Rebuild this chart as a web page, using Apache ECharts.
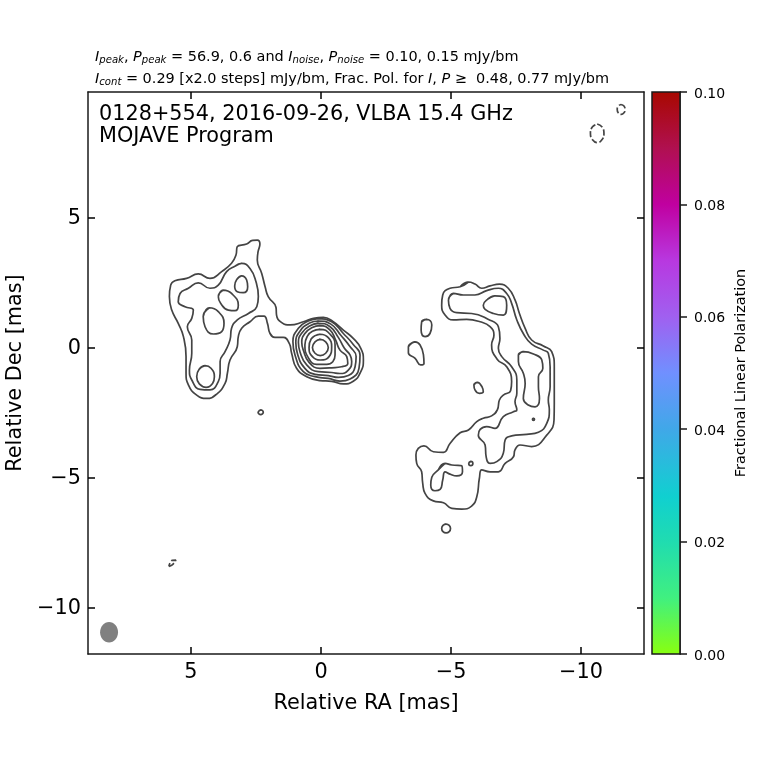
<!DOCTYPE html>
<html>
<head>
<meta charset="utf-8">
<style>html,body{margin:0;padding:0;background:#fff}#chart{width:760px;height:760px}</style>
<script src="https://cdn.jsdelivr.net/npm/echarts@6/dist/echarts.min.js"></script>
</head>
<body>
<div id="chart"></div>
<script>
// axis ranges and ticks, in mas
const raRange = [-12.42, 8.96];
const decRange = [-11.79, 9.83];
const raTicks = [5, 0, -5, -10];
const decTicks = [5, 0, -5, -10];
const polTicks = [0, 0.02, 0.04, 0.06, 0.08, 0.1];

// contours, [RA, Dec] in mas
const coreOuter = [[2.45,4.13],[2.35,3.98],[2.42,3.69],[2.45,3.37],[2.28,2.85],[2.15,2.34],[2.03,1.96],[1.73,1.54],[1.71,1.25],[1.51,0.96],[1.19,0.87],[0.68,0.99],[0.29,1.12],[-0.09,1.16],[-0.47,0.99],[-0.86,0.67],[-1.24,0.35],[-1.53,-0.03],[-1.63,-0.48],[-1.53,-0.93],[-1.24,-1.3],[-0.86,-1.4],[-0.41,-1.3],[0.04,-1.27],[0.55,-1.12],[0.94,-0.8],[1.13,-0.22],[1.22,0.16],[1.45,0.39],[1.77,0.39],[1.96,0.54],[2.06,0.93],[2.19,1.21],[2.41,1.21],[2.73,0.99],[3.05,0.74],[3.18,0.42],[3.22,0.03],[3.5,-0.48],[3.6,-0.99],[3.69,-1.38],[4.01,-1.79],[4.4,-1.96],[4.78,-1.83],[5.1,-1.44],[5.19,-0.99],[5.19,-0.35],[5.29,0.42],[5.49,0.93],[5.74,1.44],[5.83,1.96],[5.78,2.4],[5.62,2.57],[5.17,2.66],[4.72,2.83],[4.27,2.66],[3.82,2.92],[3.44,3.24],[3.27,3.56],[3.22,3.88],[2.86,3.98],[2.63,4.12]];
const leftLobe = [[3.05,3.24],[2.73,3.04],[2.5,2.53],[2.41,1.96],[2.47,1.57],[2.79,1.31],[3.22,1.06],[3.44,0.74],[3.5,0.29],[3.69,-0.16],[3.88,-0.54],[3.88,-0.99],[3.95,-1.31],[4.27,-1.63],[4.65,-1.61],[4.97,-1.25],[5.06,-0.87],[4.97,-0.22],[4.97,0.29],[5.14,0.8],[4.97,1.12],[4.91,1.44],[5.23,1.57],[5.49,1.76],[5.42,2.08],[5.1,2.28],[4.72,2.49],[4.27,2.28],[3.95,2.4],[3.63,2.92],[3.31,3.13]];
const leftBlobA = [[3.05,2.76],[2.86,2.6],[2.82,2.34],[2.99,2.11],[3.22,2.15],[3.32,2.37],[3.24,2.62]];
const leftBlobB = [[3.76,2.21],[3.44,2.08],[3.18,1.63],[3.31,1.42],[3.56,1.44],[3.86,1.7],[3.95,1.96]];
const leftBlobC = [[4.29,1.53],[3.95,1.38],[3.73,0.93],[3.82,0.61],[4.14,0.52],[4.46,0.8],[4.53,1.19]];
const leftBlobD = [[4.46,-0.7],[4.23,-0.8],[4.1,-1.12],[4.17,-1.38],[4.42,-1.53],[4.68,-1.4],[4.78,-1.12],[4.68,-0.83]];
const leftSpot = [[2.32,-2.4],[2.22,-2.49],[2.32,-2.58],[2.42,-2.49]];

const coreRing2 = [[0.1,1.11],[-0.41,0.99],[-0.86,0.54],[-1.24,0.12],[-1.5,-0.29],[-1.46,-0.8],[-1.12,-1.21],[-0.73,-1.29],[-0.28,-1.19],[0.23,-1.12],[0.68,-0.93],[1.0,-0.29],[1.08,0.22],[0.87,0.74],[0.49,1.02]];
const coreRing3 = [[0.1,1.02],[-0.38,0.9],[-0.77,0.46],[-1.12,0.03],[-1.35,-0.35],[-1.31,-0.74],[-1.05,-1.08],[-0.67,-1.15],[-0.28,-1.08],[0.23,-1.03],[0.62,-0.8],[0.9,-0.26],[0.97,0.2],[0.81,0.63],[0.46,0.93]];
const coreRing4 = [[0.1,0.93],[-0.35,0.8],[-0.67,0.38],[-0.9,-0.03],[-1.12,-0.29],[-1.18,-0.54],[-1.05,-0.87],[-0.73,-1.0],[-0.41,-0.96],[0.1,-0.93],[0.55,-0.67],[0.81,-0.16],[0.87,0.2],[0.72,0.58],[0.42,0.84]];
const coreRing5 = [[0.04,0.84],[-0.35,0.67],[-0.56,0.29],[-0.73,-0.1],[-0.99,-0.35],[-1.03,-0.61],[-0.79,-0.74],[-0.41,-0.78],[0.04,-0.8],[0.46,-0.57],[0.68,-0.1],[0.74,0.2],[0.62,0.54],[0.36,0.76]];
const coreRing6 = [[0.04,0.7],[-0.35,0.51],[-0.54,0.1],[-0.54,-0.29],[-0.22,-0.65],[0.17,-0.65],[0.49,-0.39],[0.62,0.1],[0.51,0.46],[0.33,0.63]];
const coreRing7 = [[0.03,0.51],[-0.28,0.38],[-0.41,0.03],[-0.31,-0.35],[0.03,-0.48],[0.33,-0.35],[0.46,-0.01],[0.38,0.33]];
const coreRing8 = [[0.03,0.31],[-0.18,0.22],[-0.28,0],[-0.18,-0.22],[0.03,-0.31],[0.23,-0.22],[0.33,0],[0.23,0.22]];

const arcOuter = [[-5.67,2.52],[-5.92,2.44],[-6.18,2.28],[-6.5,2.37],[-6.86,2.44],[-7.2,2.28],[-7.46,1.83],[-7.63,1.31],[-7.85,0.74],[-8.1,0.29],[-8.55,0.06],[-8.87,-0.16],[-8.97,-0.74],[-8.97,-1.51],[-8.97,-2.15],[-8.96,-2.79],[-8.68,-3.37],[-8.1,-3.81],[-7.65,-3.75],[-7.46,-3.94],[-7.4,-4.2],[-7.08,-4.46],[-6.82,-4.78],[-6.5,-4.78],[-6.18,-4.71],[-6.09,-5.03],[-5.99,-5.74],[-5.79,-6.1],[-5.41,-6.22],[-5.03,-6.19],[-4.71,-5.97],[-4.32,-5.9],[-4.0,-5.61],[-3.91,-5.22],[-3.87,-4.78],[-3.68,-4.46],[-3.65,-4.13],[-3.74,-3.88],[-3.96,-3.78],[-4.32,-4.01],[-4.71,-4.03],[-4.96,-3.69],[-5.35,-3.28],[-5.67,-3.17],[-5.99,-2.85],[-6.24,-2.72],[-6.56,-2.63],[-6.78,-2.4],[-6.86,-2.02],[-7.01,-1.83],[-7.29,-1.66],[-7.33,-1.31],[-7.14,-0.74],[-6.78,-0.46],[-6.56,0.1],[-6.65,0.48],[-6.5,0.8],[-6.12,0.99],[-5.6,1.08],[-5.09,1.06],[-4.77,1.25],[-4.64,1.63],[-4.68,2.02],[-4.96,2.28],[-5.35,2.34]];
const arcInner = [[-5.09,2.08],[-5.47,2.02],[-5.92,2.02],[-6.37,2.19],[-6.82,2.28],[-7.14,2.08],[-7.33,1.7],[-7.53,1.06],[-7.81,0.48],[-8.1,0.13],[-8.55,-0.1],[-8.74,-0.22],[-8.81,-0.74],[-8.81,-1.51],[-8.74,-2.02],[-8.78,-2.4],[-8.68,-2.92],[-8.36,-3.26],[-7.91,-3.34],[-7.33,-3.4],[-7.08,-3.56],[-7.01,-4.07],[-6.76,-4.39],[-6.5,-4.46],[-6.35,-4.2],[-6.31,-3.75],[-6.05,-3.37],[-6.12,-3.15],[-6.37,-3.04],[-6.69,-3.11],[-7.01,-2.66],[-7.4,-2.47],[-7.53,-2.4],[-7.46,-2.08],[-7.53,-1.76],[-7.53,-1.25],[-7.33,-0.74],[-6.95,-0.35],[-6.82,-0.03],[-6.88,0.35],[-6.82,0.8],[-6.44,1.08],[-5.79,1.31],[-5.22,1.34],[-4.96,1.51],[-4.9,1.83]];
const arcBlobTop = [[-6.69,1.99],[-7.01,1.96],[-7.14,1.63],[-7.01,1.25],[-6.63,1.31],[-6.31,1.47],[-6.24,1.63],[-6.4,1.85]];
const arcBlobRight = [[-7.78,-0.16],[-8.17,-0.25],[-8.49,-0.48],[-8.53,-0.8],[-8.36,-1.12],[-8.36,-1.51],[-8.4,-1.96],[-8.23,-2.28],[-7.97,-2.21],[-7.78,-1.96],[-7.85,-1.38],[-7.78,-0.99],[-7.59,-0.54],[-7.59,-0.29]];
const arcBlobLow = [[-4.77,-4.46],[-5.03,-4.52],[-5.41,-4.55],[-5.44,-4.78],[-5.22,-4.94],[-4.96,-4.87],[-4.77,-4.78],[-4.68,-5.1],[-4.58,-5.46],[-4.38,-5.51],[-4.22,-5.29],[-4.26,-4.99],[-4.51,-4.71]];
const isleA = [[-4.06,1.08],[-4.26,0.87],[-4.19,0.54],[-4.0,0.42],[-3.85,0.67],[-3.87,0.99]];
const isleB = [[-3.62,0.22],[-3.81,0.1],[-3.94,-0.29],[-3.96,-0.61],[-3.83,-0.67],[-3.62,-0.42],[-3.36,-0.2],[-3.36,0.03]];
const isleC = [[-6.01,-1.34],[-6.2,-1.53],[-6.24,-1.7],[-6.09,-1.76],[-5.92,-1.63],[-5.88,-1.44]];
const spotA = [[-8.17,-2.72],[-8.21,-2.76],[-8.17,-2.8],[-8.13,-2.76]];
const spotB = [[-5.76,-4.38],[-5.84,-4.46],[-5.76,-4.54],[-5.68,-4.46]];
const spotC = [[-4.81,-6.79],[-4.93,-6.84],[-4.98,-6.96],[-4.93,-7.08],[-4.81,-7.13],[-4.69,-7.08],[-4.64,-6.96],[-4.69,-6.84]];

// negative contours are dashed
const negA = [[-11.54,9.35],[-11.65,9.29],[-11.69,9.16],[-11.65,9.03],[-11.54,8.97],[-11.43,9.03],[-11.39,9.16],[-11.43,9.29]];
const negB = [[-10.62,8.6],[-10.8,8.49],[-10.88,8.24],[-10.8,7.99],[-10.62,7.88],[-10.44,7.99],[-10.36,8.24],[-10.44,8.49]];
const negC = [[5.85,-8.42],[5.72,-8.36],[5.58,-8.18],[5.72,-8.19]];

const solidContours = [coreOuter, leftLobe, leftBlobA, leftBlobB, leftBlobC, leftBlobD, leftSpot,
  coreRing2, coreRing3, coreRing4, coreRing5, coreRing6, coreRing7, coreRing8,
  arcOuter, arcInner, arcBlobTop, arcBlobRight, arcBlobLow, isleA, isleB, isleC, spotA, spotB, spotC];
const dashedContours = [negA, negB, negC];

// beam: centre and full axes in mas
const beamCenter = [8.15, -10.95];
const beamAxes = [0.69, 0.79];

// colorbar colours, from 0.00 up to 0.10
const polStops = [
  [0, '#88ff10'], [0.1, '#40f080'], [0.2, '#20dcb0'], [0.28, '#10d0d0'], [0.4, '#40a8e8'],
  [0.5, '#7090ff'], [0.6, '#a060f0'], [0.7, '#b838e0'], [0.8, '#c000a0'], [0.9, '#b01050'], [1, '#a80800']
];

const textFont = 'DejaVu Sans';
const inkColor = '#000';
const frameColor = '#1a1a1a';
const contourColor = '#444444';

const chart = echarts.init(document.getElementById('chart'));

// overlap one segment each way so the smoothed loop has no cusp where it closes
function closeLoop(points) {
  return [points[points.length - 1]].concat(points, [points[0]]);
}

function contourSeries(points, dashed) {
  return {
    type: 'line',
    xAxisIndex: 0,
    yAxisIndex: 0,
    data: dashed ? points.concat([points[0]]) : closeLoop(points),
    smooth: 0.5,
    showSymbol: false,
    silent: true,
    lineStyle: { color: contourColor, width: 1.7, type: dashed ? [6, 2.5] : 'solid' }
  };
}

// 主图的四边坐标轴
function frameAxis(position, range, ticks, showLabel, name) {
  const horizontal = position === 'bottom' || position === 'top';
  const label = {
    show: showLabel,
    customValues: ticks,
    margin: horizontal ? 8 : 7,
    fontFamily: textFont,
    fontSize: 20.8,
    color: inkColor,
    formatter: v => String(v).replace('-', '\u2212')
  };
  if (!horizontal) {
    // nudge the labels down a little
    label.verticalAlign = 'top';
    label.lineHeight = 3;
  }
  return {
    type: 'value',
    position: position,
    min: range[0],
    max: range[1],
    inverse: horizontal,
    name: name || '',
    nameLocation: 'middle',
    nameMoveOverlap: false,
    nameGap: horizontal ? 39 : 62,
    nameTextStyle: { fontFamily: textFont, fontSize: 20.8, color: inkColor },
    splitLine: { show: false },
    axisLine: { show: true, onZero: false, lineStyle: { color: frameColor, width: 1.5 } },
    axisTick: { show: true, inside: true, length: 7, customValues: ticks, lineStyle: { color: '#000', width: 1.5 } },
    axisLabel: label
  };
}

const headBase = { fontFamily: textFont, fontWeight: 'normal', color: inkColor };
const richHead = {
  i: { ...headBase, fontSize: 14.45, fontStyle: 'italic' },
  s: { ...headBase, fontSize: 10.1, fontStyle: 'italic', padding: [5, 0, 0, 0] },
  t: { ...headBase, fontSize: 14.45 }
};

const option = {
  animation: false,
  backgroundColor: '#fff',
  title: [
    {
      left: 95, top: 50, padding: 0,
      text: '{i|I}{s|peak}{t|, }{i|P}{s|peak}{t| = 56.9, 0.6 and }{i|I}{s|noise}{t|, }{i|P}{s|noise}{t| = 0.10, 0.15 mJy/bm}',
      textStyle: { fontWeight: 'normal', rich: richHead }
    },
    {
      left: 95, top: 72, padding: 0,
      text: '{i|I}{s|cont}{t| = 0.29 [x2.0 steps] mJy/bm, Frac. Pol. for }{i|I}{t|, }{i|P}{t| \u2265  0.48, 0.77 mJy/bm}',
      textStyle: { fontWeight: 'normal', rich: richHead }
    },
    {
      left: 99, top: 104, padding: 0,
      text: '0128+554, 2016-09-26, VLBA 15.4 GHz',
      textStyle: { fontFamily: textFont, fontSize: 20.8, fontWeight: 'normal', color: '#000' }
    },
    {
      left: 99, top: 126, padding: 0,
      text: 'MOJAVE Program',
      textStyle: { fontFamily: textFont, fontSize: 20.8, fontWeight: 'normal', color: '#000' }
    }
  ],
  grid: [
    { left: 88, right: 116, top: 92, bottom: 106, containLabel: false, outerBoundsMode: 'none' },
    { left: 652, width: 28, top: 92, bottom: 106, containLabel: false, outerBoundsMode: 'none' }
  ],
  xAxis: [
    frameAxis('bottom', raRange, raTicks, true, 'Relative RA [mas]'),
    frameAxis('top', raRange, raTicks, false),
    { gridIndex: 1, type: 'value', min: 0, max: 1, show: false }
  ],
  yAxis: [
    frameAxis('left', decRange, decTicks, true, 'Relative Dec [mas]'),
    frameAxis('right', decRange, decTicks, false),
    {
      gridIndex: 1,
      type: 'value',
      position: 'right',
      min: 0,
      max: 0.1,
      name: 'Fractional Linear Polarization',
      nameLocation: 'middle',
      nameMoveOverlap: false,
      nameRotate: 90,
      nameGap: 54,
      nameTextStyle: { fontFamily: textFont, fontSize: 14.45, color: inkColor },
      splitLine: { show: false },
      axisLine: { show: true, onZero: false, lineStyle: { color: frameColor, width: 1.5 } },
      axisTick: { show: true, length: 7, customValues: polTicks, lineStyle: { color: frameColor, width: 1.5 } },
      axisLabel: {
        customValues: polTicks,
        margin: 14,
        verticalAlign: 'top',
        lineHeight: 4,
        fontFamily: textFont,
        fontSize: 14,
        color: inkColor,
        formatter: v => v.toFixed(2)
      }
    }
  ],
  series: [
    ...solidContours.map(c => contourSeries(c, false)),
    ...dashedContours.map(c => contourSeries(c, true)),
    {
      // beam
      type: 'custom',
      xAxisIndex: 0,
      yAxisIndex: 0,
      silent: true,
      data: [[beamCenter[0], beamCenter[1], beamAxes[0], beamAxes[1]]],
      renderItem(params, api) {
        const c = api.coord([api.value(0), api.value(1)]);
        const s = api.size([api.value(2), api.value(3)]);
        return {
          type: 'ellipse',
          shape: { cx: c[0], cy: c[1], rx: s[0] / 2, ry: s[1] / 2 },
          style: { fill: '#808080' }
        };
      }
    },
    {
      // colorbar
      type: 'custom',
      xAxisIndex: 2,
      yAxisIndex: 2,
      silent: true,
      z: 1,
      data: [[0, 0, 1, 0.1]],
      renderItem(params, api) {
        const a = api.coord([api.value(0), api.value(1)]);
        const b = api.coord([api.value(2), api.value(3)]);
        return {
          type: 'rect',
          shape: { x: a[0], y: b[1], width: b[0] - a[0], height: a[1] - b[1] },
          style: {
            fill: new echarts.graphic.LinearGradient(0, 1, 0, 0,
              polStops.map(s => ({ offset: s[0], color: s[1] })))
          }
        };
      }
    }
  ],
  graphic: [
    {
      type: 'rect',
      silent: true,
      z: 100,
      shape: { x: 652, y: 92, width: 28, height: 562 },
      style: { fill: 'none', stroke: frameColor, lineWidth: 1.5 }
    }
  ]
};

chart.setOption(option);
</script>
</body>
</html>
